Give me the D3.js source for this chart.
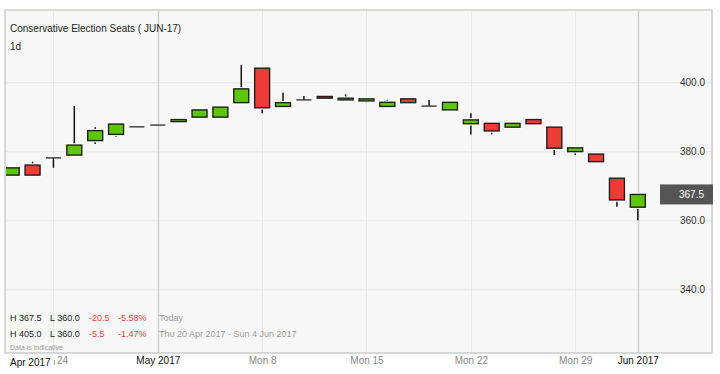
<!DOCTYPE html>
<html lang="en">
<head>
<meta charset="UTF-8" />
<script src="https://d3js.org/d3.v7.min.js"></script>
<title>Conservative Election Seats</title>
<style>
  body { margin: 0; background: #fff; }
  svg { display: block; font-family: "Liberation Sans", Arial, sans-serif; }
</style>
</head>
<body>
<script>
  var w = 720;
  var h = 374;

  // trading days shown on the chart
  var dates = ["2017-04-20", "2017-04-21", "2017-04-24", "2017-04-25", "2017-04-26", "2017-04-27", "2017-04-28",
    "2017-05-01", "2017-05-02", "2017-05-03", "2017-05-04", "2017-05-05",
    "2017-05-08", "2017-05-09", "2017-05-10", "2017-05-11", "2017-05-12",
    "2017-05-15", "2017-05-16", "2017-05-17", "2017-05-18", "2017-05-19",
    "2017-05-22", "2017-05-23", "2017-05-24", "2017-05-25", "2017-05-26",
    "2017-05-29", "2017-05-30", "2017-05-31", "2017-06-01"];
  var open  = [373.1, 376.0, 378.1, 378.9, 383.1, 384.9, 387.1, 387.6, 388.6, 389.9, 389.9, 394.1, 404.1, 393.0, 394.9, 395.9,
    394.9, 394.6, 393.0, 395.2, 393.1, 392.0, 388.0, 388.1, 387.0, 389.2, 387.0, 379.9, 379.2, 372.2, 363.8];
  var high  = [375.2, 377.0, 378.1, 393.1, 387.0, 388.1, 387.1, 387.6, 389.2, 392.0, 392.8, 405.0, 404.1, 397.0, 396.0, 395.9,
    396.5, 395.2, 394.9, 395.2, 394.9, 394.2, 391.0, 388.1, 388.1, 389.2, 387.0, 381.0, 379.2, 372.2, 367.5];
  var low   = [373.1, 373.1, 375.2, 378.9, 382.1, 384.2, 387.1, 387.6, 388.6, 389.9, 389.9, 394.1, 391.0, 393.0, 394.9, 395.4,
    394.9, 394.1, 393.0, 394.1, 393.1, 392.0, 384.9, 384.9, 387.0, 388.0, 378.9, 378.9, 377.0, 363.9, 360.0];
  var close = [375.2, 373.1, 378.1, 381.8, 386.0, 387.9, 387.1, 387.6, 389.2, 392.0, 392.8, 398.1, 392.6, 394.1, 394.9, 395.4,
    395.4, 395.2, 394.2, 394.1, 393.1, 394.2, 389.1, 385.9, 388.1, 388.0, 380.9, 381.0, 377.0, 365.9, 367.5];

  var yTicks = [340, 360, 380, 400];
  var tickDates = ["2017-04-24", "2017-05-01", "2017-05-08", "2017-05-15", "2017-05-22", "2017-05-29", "2017-06-01"];
  var tickLabels = ["24", "May 2017", "Mon 8", "Mon 15", "Mon 22", "Mon 29", "Jun 2017"];
  var monthTicks = ["2017-05-01", "2017-06-01"];
  var lastPrice = 367.5;

  var statRows = [
    ["H 367.5", "L 360.0", "-20.5", "-5.58%", "Today"],
    ["H 405.0", "L 360.0", "-5.5", "-1.47%", "Thu 20 Apr 2017 - Sun 4 Jun 2017"]
  ];

  var candles = dates.map(function (d, i) {
    return { date: d, o: open[i], h: high[i], l: low[i], c: close[i] };
  });

  var plot = { left: 5, top: 10, right: 712, bottom: 353 };

  var x = d3.scalePoint().domain(dates).range([11.7, 637.8]);
  var y = d3.scaleLinear().domain([340, 400]).range([289.3, 82.3]);
  var bodyW = 15;

  var svg = d3.select("body").append("svg")
    .attr("width", w)
    .attr("height", h);

  svg.append("defs").append("clipPath").attr("id", "plotClip")
    .append("rect")
    .attr("x", plot.left + 1).attr("y", plot.top)
    .attr("width", plot.right - plot.left - 2).attr("height", plot.bottom - plot.top);

  svg.append("rect")
    .attr("x", plot.left).attr("y", plot.top)
    .attr("width", plot.right - plot.left).attr("height", plot.bottom - plot.top)
    .attr("fill", "#f7f7f7");

  // horizontal grid
  svg.append("g").selectAll("line")
    .data(yTicks)
    .enter().append("line")
    .attr("x1", plot.left).attr("x2", plot.right)
    .attr("y1", function (d) { return y(d) + 0.5; })
    .attr("y2", function (d) { return y(d) + 0.5; })
    .attr("stroke", "#e6e6e6");

  // vertical grid
  svg.append("g").selectAll("line")
    .data(tickDates)
    .enter().append("line")
    .attr("x1", function (d) { return Math.round(x(d)) + 0.5; })
    .attr("x2", function (d) { return Math.round(x(d)) + 0.5; })
    .attr("y1", plot.top).attr("y2", plot.bottom)
    .attr("stroke", function (d) { return monthTicks.indexOf(d) >= 0 ? "#cfcfcf" : "#e7e8ee"; })
    .attr("stroke-width", function (d) { return monthTicks.indexOf(d) >= 0 ? 1.5 : 1; });

  // candles
  var cg = svg.append("g").attr("clip-path", "url(#plotClip)");

  var candle = cg.selectAll("g.candle")
    .data(candles)
    .enter().append("g")
    .attr("class", "candle");

  candle.append("line")
    .attr("x1", function (d) { return x(d.date); })
    .attr("x2", function (d) { return x(d.date); })
    .attr("y1", function (d) { return y(d.h); })
    .attr("y2", function (d) { return y(d.l); })
    .attr("stroke", "#111")
    .attr("stroke-width", 1.5);

  candle.each(function (d) {
    var g = d3.select(this);
    var top = y(Math.max(d.o, d.c));
    var bot = y(Math.min(d.o, d.c));
    if (bot - top < 1) {
      g.append("line")
        .attr("x1", x(d.date) - bodyW / 2).attr("x2", x(d.date) + bodyW / 2)
        .attr("y1", top).attr("y2", top)
        .attr("stroke", "#444").attr("stroke-width", 1.5);
      return;
    }
    var fill = d.c >= d.o ? "#5cc600" : "#ef3b35";
    g.append("rect")
      .attr("x", x(d.date) - bodyW / 2).attr("y", top)
      .attr("width", bodyW).attr("height", bot - top)
      .attr("fill", "none").attr("stroke", "#fff").attr("stroke-width", 3.5);
    g.append("rect")
      .attr("x", x(d.date) - bodyW / 2).attr("y", top)
      .attr("width", bodyW).attr("height", bot - top)
      .attr("fill", fill).attr("stroke", "#1e1e1e").attr("stroke-width", 1.4);
  });

  // plot border
  svg.append("path")
    .attr("d", "M" + plot.left + "," + plot.bottom + "V" + plot.top + "H" + plot.right + "V" + plot.bottom + "Z")
    .attr("fill", "none").attr("stroke", "#ccc").attr("stroke-width", 1.5);
  svg.append("line")
    .attr("x1", plot.left).attr("x2", plot.right)
    .attr("y1", plot.top).attr("y2", plot.top)
    .attr("stroke", "#dcdcd2").attr("stroke-width", 1.5);

  // right axis labels
  var yAxis = svg.append("g")
    .attr("transform", "translate(705,0)")
    .call(d3.axisLeft(y).tickValues(yTicks).tickSize(0).tickPadding(0).tickFormat(d3.format(".1f")));
  yAxis.select(".domain").remove();
  yAxis.selectAll("text")
    .attr("font-family", "Liberation Sans, Arial, sans-serif")
    .attr("font-size", 10).attr("fill", "#333");

  // last price marker
  svg.append("rect")
    .attr("x", 660).attr("y", y(lastPrice) - 10)
    .attr("width", 53).attr("height", 20)
    .attr("fill", "#555");
  svg.append("text")
    .attr("x", 704).attr("y", y(lastPrice) + 3.5)
    .attr("text-anchor", "end")
    .attr("font-size", 10).attr("fill", "#fff")
    .text(d3.format(".1f")(lastPrice));

  // bottom axis labels
  var xAxis = svg.append("g")
    .attr("transform", "translate(0," + plot.bottom + ")")
    .call(d3.axisBottom(x).tickValues(tickDates).tickSize(0).tickPadding(4)
      .tickFormat(function (d, i) { return tickLabels[i]; }));
  xAxis.select(".domain").remove();
  xAxis.selectAll("text")
    .attr("font-family", "Liberation Sans, Arial, sans-serif")
    .attr("font-size", 10)
    .attr("fill", function (d) { return monthTicks.indexOf(d) >= 0 ? "#111" : "#888"; });

  // first Monday label is cut off by the sticky month label
  xAxis.selectAll(".tick")
    .filter(function (d) { return d === tickDates[0]; })
    .each(function () {
      var t = d3.select(this);
      t.select("text").attr("text-anchor", "start").attr("x", 3);
      t.append("line")
        .attr("x1", 0.5).attr("x2", 0.5)
        .attr("y1", 7).attr("y2", 12)
        .attr("stroke", "#aaa");
    });

  svg.append("text")
    .attr("x", 10).attr("y", 366)
    .attr("font-size", 10).attr("fill", "#111")
    .text("Apr 2017");

  // title
  svg.append("text")
    .attr("x", 10).attr("y", 32)
    .attr("font-size", 10).attr("fill", "#222")
    .text("Conservative Election Seats ( JUN-17)");
  svg.append("text")
    .attr("x", 10).attr("y", 50)
    .attr("font-size", 10).attr("fill", "#222")
    .text("1d");

  // stats
  var colX = [10, 50, 89, 118, 159];
  var colFill = ["#222", "#222", "#e8403b", "#e8403b", "#999"];
  statRows.forEach(function (row, r) {
    svg.append("g").selectAll("text")
      .data(row)
      .enter().append("text")
      .attr("x", function (d, i) { return colX[i]; })
      .attr("y", 321 + r * 16)
      .attr("font-size", 9)
      .attr("fill", function (d, i) { return colFill[i]; })
      .text(function (d) { return d; });
  });
  svg.append("text")
    .attr("x", 10).attr("y", 350)
    .attr("font-size", 7).attr("fill", "#999")
    .text("Data is indicative");
</script>
</body>
</html>
